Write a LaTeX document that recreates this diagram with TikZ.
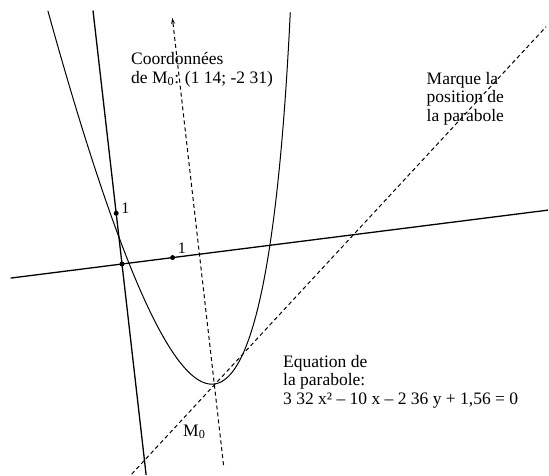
\documentclass[tikz,border=0pt]{standalone}
\usepackage{fontspec}
\setmainfont{Liberation Serif}
\usetikzlibrary{arrows.meta}

\begin{document}
\begin{tikzpicture}[x={(50.6pt,6.4pt)},y={(-5.8pt,50.7pt)},
  lbl/.style={font=\fontsize{17.5}{18.5}\selectfont,align=left,inner sep=0pt,anchor=base west},
  dsh/.style={line width=1pt,dash pattern=on 4pt off 3pt}]
\useasboundingbox (-122pt,-211pt) rectangle (427pt,264pt);
\coordinate (O) at (0,0);
\coordinate (ux) at (1,0);
\coordinate (uy) at (0,1);
\coordinate (M0) at (1.53,-2.56);
\draw[line width=1.3pt] (-2.2,0) -- (8.42,0);
\draw[line width=1.3pt] (0,-4.16) -- (0,5.0);
\draw[line width=1pt,domain=-0.88:3.84,samples=120] plot (\x,{1.32*(\x-1.53)^2-2.56});
\draw[dsh,-{Stealth[length=6pt,width=4pt]}] (1.53,-4.16) -- (1.53,4.66);
\draw[dsh] (-0.28,-4.11) -- (8.79,3.57);
\foreach \p in {O,ux,uy} \fill (\p) circle (2.5pt);
\node[lbl,font=\fontsize{16}{16}\selectfont] (onex) at ([shift={(5pt,4pt)}]ux) {1};
\node[lbl,font=\fontsize{16}{16}\selectfont] (oney) at ([shift={(5pt,0pt)}]uy) {1};
% multi-line labels: base anchor sits on the last line
\node[lbl] (coords) at (9pt,181pt) {Coordonnées\\de M\textsubscript{0}: (1 14; -2 31)};
\node[lbl] (marque) at (304.5pt,143pt) {Marque la\\position de\\la parabole};
\node[lbl] (equation) at (161pt,-140pt) {Equation de\\la parabole:\\3 32 x² -- 10 x -- 2 36 y + 1,56 = 0};
\node[lbl] (mlabel) at (61pt,-172pt) {M\textsubscript{0}};
\end{tikzpicture}
\end{document}
